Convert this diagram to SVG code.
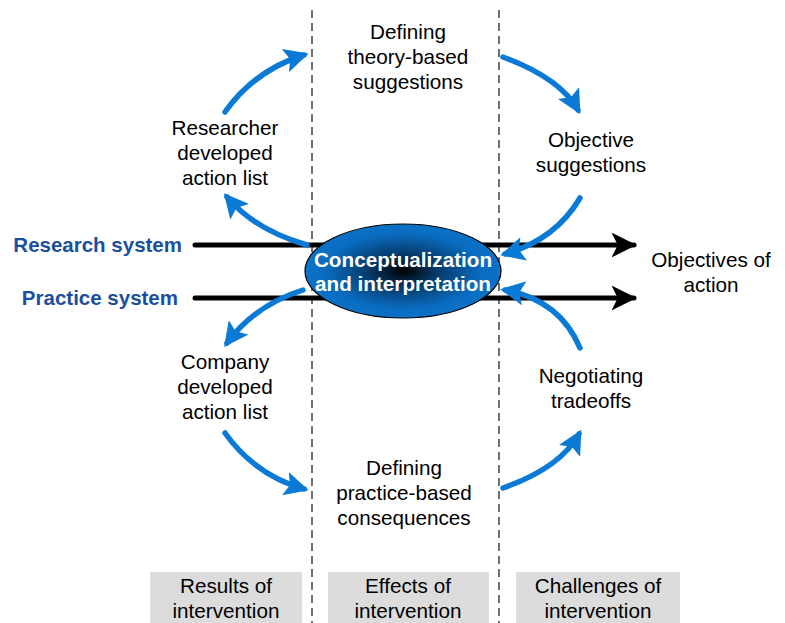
<svg xmlns="http://www.w3.org/2000/svg" width="785" height="623" viewBox="0 0 785 623">
<style>
.t{font-family:"Liberation Sans",Arial,sans-serif;font-size:20.7px;fill:#000;text-anchor:middle}
.sys{font-family:"Liberation Sans",Arial,sans-serif;font-size:20.5px;font-weight:bold;fill:#1a4fa0;text-anchor:end}
.ct{font-family:"Liberation Sans",Arial,sans-serif;font-size:20.7px;font-weight:bold;fill:#fff;text-anchor:middle}
.dash{stroke:#404040;stroke-width:1.5;stroke-dasharray:8 5;fill:none}
.blk{stroke:#000;stroke-width:5;fill:none;stroke-linecap:round}
.blu{stroke:#0a7ad6;stroke-width:5.5;fill:none;stroke-linecap:round}
.box{fill:#dcdcdc}
</style>
<defs>
<marker id="ab" viewBox="0 0 10 10" refX="9" refY="5" markerWidth="5" markerHeight="5" markerUnits="strokeWidth" orient="auto"><path d="M0,0 L10,5 L0,10 L2.5,5 Z" fill="#000"/></marker>
<marker id="au" viewBox="0 0 10 10" refX="8" refY="5" markerWidth="4.4" markerHeight="4.4" markerUnits="strokeWidth" orient="auto"><path d="M0,0 L10,5 L0,10 L2,5 Z" fill="#0a7ad6"/></marker>
<radialGradient id="g" cx="0.5" cy="0.5" r="0.5"><stop offset="0" stop-color="#000"/><stop offset="0.35" stop-color="#063a6a"/><stop offset="0.8" stop-color="#0a6cc0"/><stop offset="1" stop-color="#0a72c8"/></radialGradient>
</defs>
<g id="dividers">
<line class="dash" x1="312" y1="10" x2="312" y2="623"/>
<line class="dash" x1="499" y1="10" x2="499" y2="623"/>
</g>
<g id="footer-results"><rect class="box" x="150" y="572" width="152" height="51"/><text class="t" x="226" y="593">Results of</text><text class="t" x="226" y="618">intervention</text></g>
<g id="footer-effects"><rect class="box" x="328" y="572" width="161" height="51"/><text class="t" x="408" y="593">Effects of</text><text class="t" x="408" y="618">intervention</text></g>
<g id="footer-challenges"><rect class="box" x="516" y="572" width="164" height="51"/><text class="t" x="598" y="593">Challenges of</text><text class="t" x="598" y="618">intervention</text></g>
<g id="connectors">
<line class="blk" x1="195" y1="245" x2="634" y2="245" marker-end="url(#ab)"/>
<line class="blk" x1="195" y1="298" x2="634" y2="298" marker-end="url(#ab)"/>
<path class="blu" d="M225,112 Q255,70 304,55" marker-end="url(#au)"/>
<path class="blu" d="M503,57 Q560,78 578,110" marker-end="url(#au)"/>
<path class="blu" d="M580,198 Q555,240 505,254" marker-end="url(#au)"/>
<path class="blu" d="M580,348 Q560,300 505,290" marker-end="url(#au)"/>
<path class="blu" d="M503,488 Q560,468 579,434" marker-end="url(#au)"/>
<path class="blu" d="M225,433 Q255,475 304,489" marker-end="url(#au)"/>
<path class="blu" d="M307,245 Q255,230 227,197" marker-end="url(#au)"/>
<path class="blu" d="M303,290 Q255,305 227,343" marker-end="url(#au)"/>
</g>
<g id="research-system"><text class="sys" x="182" y="252">Research system</text></g>
<g id="practice-system"><text class="sys" x="178" y="305">Practice system</text></g>
<g id="center"><ellipse cx="403" cy="271" rx="98" ry="47" fill="url(#g)" stroke="#000" stroke-width="1.2"/><text class="ct" x="403" y="267">Conceptualization</text><text class="ct" x="403" y="291">and interpretation</text></g>
<g id="researcher"><text class="t" x="225" y="135">Researcher</text><text class="t" x="225" y="160">developed</text><text class="t" x="225" y="185">action list</text></g>
<g id="theory"><text class="t" x="408" y="39">Defining</text><text class="t" x="408" y="64">theory-based</text><text class="t" x="408" y="89">suggestions</text></g>
<g id="objective"><text class="t" x="591" y="147">Objective</text><text class="t" x="591" y="172">suggestions</text></g>
<g id="objectives-action"><text class="t" x="711" y="267">Objectives of</text><text class="t" x="711" y="292">action</text></g>
<g id="company"><text class="t" x="225" y="369">Company</text><text class="t" x="225" y="394">developed</text><text class="t" x="225" y="419">action list</text></g>
<g id="negotiating"><text class="t" x="591" y="383">Negotiating</text><text class="t" x="591" y="408">tradeoffs</text></g>
<g id="practice-consequences"><text class="t" x="404" y="475">Defining</text><text class="t" x="404" y="500">practice-based</text><text class="t" x="404" y="525">consequences</text></g>
</svg>
